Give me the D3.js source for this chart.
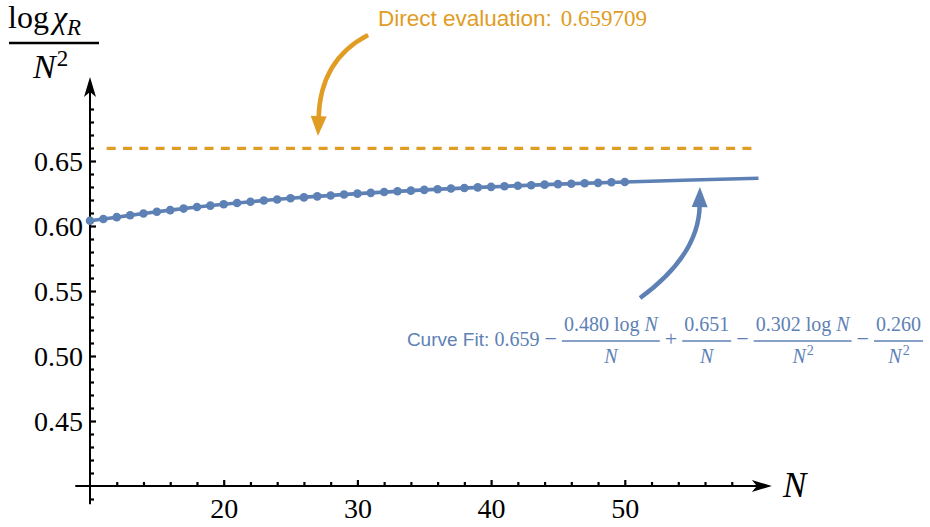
<!DOCTYPE html>
<html>
<head>
<meta charset="utf-8">
<script src="https://cdn.jsdelivr.net/npm/d3@7"></script>
<style>
  body { margin: 0; background: #fff; }
  svg { display: block; }
</style>
</head>
<body>
<svg id="chart" width="930" height="527"></svg>
<script>
// data
const pointN = d3.range(10, 51);
const pointValues = [0.6040, 0.6054, 0.6068, 0.6083, 0.6096, 0.6110, 0.6122, 0.6134,
  0.6146, 0.6157, 0.6167, 0.6177, 0.6187, 0.6196, 0.6204, 0.6213, 0.6220, 0.6228,
  0.6235, 0.6242, 0.6249, 0.6255, 0.6261, 0.6267, 0.6272, 0.6278, 0.6283, 0.6288,
  0.6292, 0.6297, 0.6301, 0.6306, 0.6310, 0.6314, 0.6318, 0.6322, 0.6325, 0.6329,
  0.6332, 0.6336, 0.6339];
const fitN = [10, 12, 14, 16, 18, 20, 25, 30, 35, 40, 45, 50, 55, 60];
const fitValues = [0.6040, 0.6068, 0.6096, 0.6122, 0.6146, 0.6167, 0.6213, 0.6249,
  0.6278, 0.6301, 0.6322, 0.6339, 0.6354, 0.6367];
const directValue = 0.659709;
const directRange = [11.25, 60];

const xMajor = [20, 30, 40, 50];
const xMinor = d3.range(12, 60, 2).filter(d => d % 10 !== 0);
const yMajor = [0.45, 0.50, 0.55, 0.60, 0.65];
const yMinor = d3.range(39, 71).map(d => d / 100).filter(d => Math.round(d * 100) % 5 !== 0);

const blue = "#5E81B5", orange = "#E19C24";
const SERIF = "'Liberation Serif', 'Times New Roman', serif";
const SANS = "'Liberation Sans', Arial, sans-serif";

const svg = d3.select("#chart");

const x = d3.scaleLinear().domain([10, 60]).range([90, 758.5]);
const y = d3.scaleLinear().domain([0.40, 0.65]).range([486, 161]);

const axisColor = "#000";

// ---- axes lines with arrow heads
const xLeft = 8.9, xTip = 61.0, yBottom = 0.386, yTip = 0.7146;

svg.append("line")
  .attr("x1", x(xLeft)).attr("x2", x(xTip) - 6)
  .attr("y1", y(0.40)).attr("y2", y(0.40))
  .attr("stroke", axisColor).attr("stroke-width", 2);
svg.append("line")
  .attr("x1", x(10)).attr("x2", x(10))
  .attr("y1", y(yBottom)).attr("y2", y(yTip) + 6)
  .attr("stroke", axisColor).attr("stroke-width", 2);

const xt = x(xTip), xy = y(0.40);
svg.append("path")
  .attr("d", `M${xt},${xy} L${xt - 20},${xy - 6} L${xt - 15},${xy} L${xt - 20},${xy + 6} Z`)
  .attr("fill", axisColor);
const yt = y(yTip), yx = x(10);
svg.append("path")
  .attr("d", `M${yx},${yt} L${yx - 6},${yt + 20} L${yx},${yt + 15} L${yx + 6},${yt + 20} Z`)
  .attr("fill", axisColor);

// ---- ticks (drawn through d3 axes)
function tickStyle(g) {
  g.select(".domain").remove();
  g.selectAll("line").attr("stroke", axisColor).attr("stroke-width", 2.2);
}
svg.append("g").attr("transform", `translate(${x(10)},0)`)
  .call(d3.axisRight(y).tickValues(yMajor).tickSize(6).tickFormat(""))
  .call(tickStyle);
svg.append("g").attr("transform", `translate(${x(10)},0)`)
  .call(d3.axisRight(y).tickValues(yMinor).tickSize(4).tickFormat(""))
  .call(tickStyle);
svg.append("g").attr("transform", `translate(0,${y(0.40)})`)
  .call(d3.axisTop(x).tickValues(xMajor).tickSize(6).tickFormat(""))
  .call(tickStyle);
svg.append("g").attr("transform", `translate(0,${y(0.40)})`)
  .call(d3.axisTop(x).tickValues(xMinor).tickSize(4).tickFormat(""))
  .call(tickStyle);

// tick labels
const yLab = svg.append("g").attr("transform", `translate(${x(10)},0)`)
  .call(d3.axisLeft(y).tickValues(yMajor).tickSize(0).tickPadding(7).tickFormat(d3.format(".2f")));
yLab.select(".domain").remove();
yLab.selectAll("text").style("font-family", SERIF).style("font-size", "28px")
  .attr("fill", "#000").attr("dy", "0.34em");

const xLab = svg.append("g").attr("transform", `translate(0,${y(0.40)})`)
  .call(d3.axisBottom(x).tickValues(xMajor).tickSize(0).tickPadding(12).tickFormat(d3.format("d")));
xLab.select(".domain").remove();
xLab.selectAll("text").style("font-family", SERIF).style("font-size", "28px").attr("fill", "#000");

// axis titles
svg.append("text")
  .attr("x", 783).attr("y", 497)
  .style("font-family", SERIF)
  .style("font-size", "35px").style("font-style", "italic").text("N");

const yTitle = svg.append("g").style("font-family", SERIF);
const num = yTitle.append("text").attr("x", 8).attr("y", 28).style("font-size", "32px");
num.append("tspan").text("log");
num.append("tspan").attr("dx", 4).style("font-style", "italic").text("χ");
num.append("tspan").attr("dy", 7).style("font-style", "italic").style("font-size", "23px").text("R");
yTitle.append("line").attr("x1", 9).attr("x2", 99).attr("y1", 43).attr("y2", 43)
  .attr("stroke", "#000").attr("stroke-width", 2.5);
const den = yTitle.append("text").attr("x", 33).attr("y", 78).style("font-size", "34px");
den.append("tspan").style("font-style", "italic").text("N");
den.append("tspan").attr("dy", -12).attr("dx", 1).style("font-size", "23px").text("2");

// ---- direct evaluation dashed line
svg.append("line")
  .attr("x1", x(directRange[0])).attr("x2", x(directRange[1]))
  .attr("y1", y(directValue)).attr("y2", y(directValue))
  .attr("stroke", orange).attr("stroke-width", 3.4)
  .attr("stroke-dasharray", "9,7.3");

// ---- fitted curve and points
const line = d3.line().x((d, i) => x(fitN[i])).y(d => y(d)).curve(d3.curveMonotoneX);
svg.append("path").datum(fitValues)
  .attr("d", line).attr("fill", "none")
  .attr("stroke", blue).attr("stroke-width", 3.6);

svg.append("g").selectAll("circle").data(pointValues).join("circle")
  .attr("cx", (d, i) => x(pointN[i])).attr("cy", d => y(d))
  .attr("r", 4.3).attr("fill", blue);

// ---- annotation arrows
function curvedArrow(tail, ctrl, base, tip, color) {
  svg.append("path")
    .attr("d", `M${x(tail[0])},${y(tail[1])} Q${x(ctrl[0])},${y(ctrl[1])} ${x(base[0])},${y(base[1])}`)
    .attr("fill", "none").attr("stroke", color).attr("stroke-width", 4.5);
  const bx = x(base[0]), by = y(base[1]), tx = x(tip[0]), ty = y(tip[1]);
  const dx = tx - bx, dy = ty - by, len = Math.hypot(dx, dy);
  const ux = dx / len, uy = dy / len, w = 8;
  const sx = bx - ux * 2, sy = by - uy * 2;
  svg.append("path")
    .attr("d", `M${tx},${ty} L${sx - uy * w},${sy + ux * w} L${sx + uy * w},${sy - ux * w} Z`)
    .attr("fill", color);
}
curvedArrow([30.8, 0.7469], [27.2, 0.7277], [27.1, 0.6830], [27.05, 0.6692], orange);
curvedArrow([51.14, 0.5446], [55.55, 0.5777], [55.6, 0.6160], [55.62, 0.6300], blue);

// ---- direct evaluation label
const dLab = svg.append("text").attr("x", 378).attr("y", 26).attr("fill", orange);
dLab.append("tspan").style("font-family", SANS).style("font-size", "22.5px").text("Direct evaluation:");
dLab.append("tspan").attr("dx", 9).style("font-family", SERIF).style("font-size", "23px").text("0.659709");

// ---- curve fit formula
const fitCoef = ["0.659", "0.480", "0.651", "0.302", "0.260"];
const fg = svg.append("g").attr("fill", blue);
const fs = 20, base = 346, numBase = 331, denBase = 363, barY = 341;
function addText(g, str, fam, px, italic) {
  return g.append("tspan").style("font-family", fam).style("font-size", px + "px")
    .style("font-style", italic ? "italic" : "normal").text(str);
}
// build pieces then lay out anchored at the right end
const pieces = [
  { type: "text", segs: [["Curve Fit: ", SANS, 19], [fitCoef[0], SERIF, fs]] },
  { type: "op", s: "−" },
  { type: "frac", num: [[fitCoef[1] + " log ", SERIF, fs], ["N", SERIF, fs, true]], den: [["N", SERIF, fs, true]] },
  { type: "op", s: "+" },
  { type: "frac", num: [[fitCoef[2], SERIF, fs]], den: [["N", SERIF, fs, true]] },
  { type: "op", s: "−" },
  { type: "frac", num: [[fitCoef[3] + " log ", SERIF, fs], ["N", SERIF, fs, true]], den: [["N", SERIF, fs, true], ["2", SERIF, 14, false, -8]] },
  { type: "op", s: "−" },
  { type: "frac", num: [[fitCoef[4], SERIF, fs]], den: [["N", SERIF, fs, true], ["2", SERIF, 14, false, -8]] }
];
function makeText(segs, yy) {
  const t = fg.append("text").attr("y", yy);
  segs.forEach(s => {
    const sp = addText(t, s[0], s[1], s[2], s[3]);
    if (s[4]) sp.attr("dy", s[4]).attr("dx", 1);
  });
  return t;
}
let cursor = 0;
const laid = [];
pieces.forEach(p => {
  if (p.type === "text") {
    const t = makeText(p.segs, base);
    const w = t.node().getComputedTextLength();
    laid.push({ nodes: [[t, cursor]], w });
    cursor += w + 5;
  } else if (p.type === "op") {
    const t = makeText([[p.s, SERIF, fs + 2]], base);
    const w = t.node().getComputedTextLength();
    laid.push({ nodes: [[t, cursor]], w });
    cursor += w + 5;
  } else {
    const n = makeText(p.num, numBase), d = makeText(p.den, denBase);
    const nw = n.node().getComputedTextLength(), dw = d.node().getComputedTextLength();
    const w = Math.max(nw, dw) + 4;
    const bar = fg.append("line").attr("y1", barY).attr("y2", barY)
      .attr("stroke", blue).attr("stroke-width", 1.6);
    laid.push({ nodes: [[n, cursor + (w - nw) / 2], [d, cursor + (w - dw) / 2]], bar, start: cursor, w });
    cursor += w + 5;
  }
});
const totalW = cursor - 5;
const x0 = 923 - totalW;
laid.forEach(l => {
  l.nodes.forEach(([t, off]) => t.attr("x", x0 + off));
  if (l.bar) l.bar.attr("x1", x0 + l.start).attr("x2", x0 + l.start + l.w);
});
</script>
</body>
</html>
